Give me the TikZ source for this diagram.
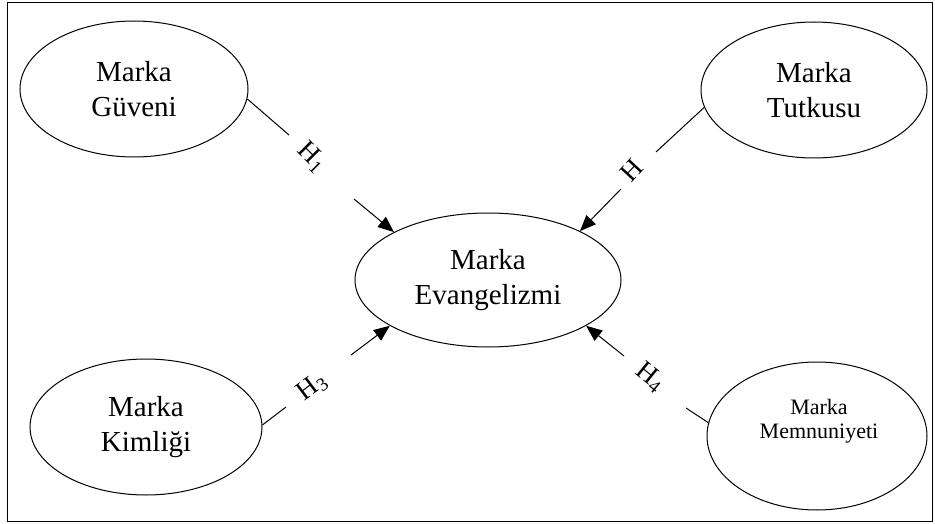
\documentclass[tikz,border=0pt]{standalone}
\usepackage{fontspec}
\setmainfont{Liberation Serif}
\usetikzlibrary{shapes.geometric,arrows.meta}
\begin{document}
\begin{tikzpicture}[x=1pt,y=-1pt,
  ell/.style={draw,ellipse,line width=1pt,inner sep=0pt,align=center,font=\fontsize{29}{35}\selectfont},
  conn/.style={line width=1pt},
  arr/.style={line width=1pt,-{Triangle[length=16pt,width=13pt]}},
  lab/.style={font=\fontsize{27}{27}\selectfont,inner sep=0pt}]
\useasboundingbox (0,0) rectangle (935,524);
\draw[line width=1pt] (7,3) rectangle (932,521);
% nodes
\node[ell,minimum width=228pt,minimum height=136pt] (gu) at (134,89) {Marka\\Güveni};
\node[ell,minimum width=226pt,minimum height=136pt] (tu) at (814,90) {Marka\\Tutkusu};
\node[ell,minimum width=266pt,minimum height=134pt] (ev) at (488,280) {Marka\\Evangelizmi};
\node[ell,minimum width=232pt,minimum height=136pt] (ki) at (146,427) {Marka\\Kimliği};
\node[ell,minimum width=220pt,minimum height=148pt] (mem) at (817,436) {};
\node[align=center,inner sep=0pt,font=\fontsize{22}{24}\selectfont] (memt) at (819,421) {Marka\\Memnuniyeti};
% labels
\node[lab,rotate=-45] (h1) at (312,157) {H\textsubscript{1}};
\node[lab,rotate=47] (h2) at (632,170) {H};
\node[lab,rotate=37] (h3) at (312,387) {H\textsubscript{3}};
\node[lab,rotate=-39] (h4) at (650,377) {H\textsubscript{4}};
% connector break points
\coordinate (g2) at (289,135); \coordinate (g3) at (354,199);
\coordinate (t2) at (656,152); \coordinate (t3) at (621,189);
\coordinate (k2) at (286,407); \coordinate (k3) at (351,355);
\coordinate (m2) at (686,408); \coordinate (m3) at (624,356);
% connectors
\draw[conn] (gu.-5) -- (g2);
\draw[arr] (g3) -- (ev.153.2);
\draw[conn] (tu.189) -- (t2);
\draw[arr] (t3) -- (ev.28.4);
\draw[conn] (ki.1) -- (k2);
\draw[arr] (k3) -- (ev.205.7);
\draw[conn] (mem.173) -- (m2);
\draw[arr] (m3) -- (ev.335.3);
\end{tikzpicture}
\end{document}
